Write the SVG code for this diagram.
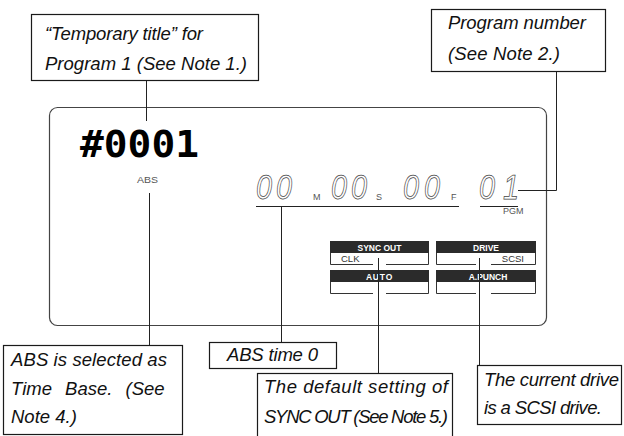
<svg xmlns="http://www.w3.org/2000/svg" width="624" height="436" viewBox="0 0 624 436">
<style>
.box{fill:#fff;stroke:#1a1a1a;stroke-width:1.2}
.lbl{font-family:"Liberation Sans",Arial,sans-serif;font-style:italic;font-size:18.5px;fill:#111}
.ldr{stroke:#222;stroke-width:1;fill:none}
.panel{fill:#fff;stroke:#444;stroke-width:1.2}
.seg{font-family:"Liberation Sans",Arial,sans-serif;font-style:italic;font-size:35px;fill:none;stroke:#444;stroke-width:0.75}
.unit{font-family:"Liberation Sans",Arial,sans-serif;font-size:9px;fill:#555}
.hdr{fill:#2b2b2b}
.hdrt{font-family:"Liberation Sans",Arial,sans-serif;font-size:8.5px;font-weight:bold;fill:#fff;text-anchor:middle}
.low{fill:none;stroke:#333;stroke-width:1}
.lowt{font-family:"Liberation Sans",Arial,sans-serif;font-size:9.5px;fill:#333}
</style>
<g id="panel">
<rect class="panel" x="49.5" y="107.5" width="497" height="218" rx="8"/>
<text x="80" y="157" font-family="DejaVu Sans Mono,monospace" font-weight="bold" font-size="37" textLength="119" lengthAdjust="spacingAndGlyphs" fill="#000">#0001</text>
<text class="unit" x="137" y="183" font-size="8.5" textLength="21" lengthAdjust="spacingAndGlyphs">ABS</text>
</g>
<g id="time-display">
<text class="seg" x="256" y="199" textLength="16" lengthAdjust="spacingAndGlyphs">0</text>
<text class="seg" x="276" y="199" textLength="16" lengthAdjust="spacingAndGlyphs">0</text>
<text class="unit" x="313" y="200">M</text>
<text class="seg" x="331" y="199" textLength="16" lengthAdjust="spacingAndGlyphs">0</text>
<text class="seg" x="351" y="199" textLength="16" lengthAdjust="spacingAndGlyphs">0</text>
<text class="unit" x="376" y="200">S</text>
<text class="seg" x="403" y="199" textLength="16" lengthAdjust="spacingAndGlyphs">0</text>
<text class="seg" x="424" y="199" textLength="16" lengthAdjust="spacingAndGlyphs">0</text>
<text class="unit" x="451" y="200">F</text>
<line x1="256" y1="206.5" x2="459" y2="206.5" stroke="#222" stroke-width="1"/>
</g>
<g id="pgm-display">
<text class="seg" x="479" y="199" textLength="16" lengthAdjust="spacingAndGlyphs">0</text>
<text class="seg" x="503" y="199" textLength="16" lengthAdjust="spacingAndGlyphs">1</text>
<line x1="480" y1="206.5" x2="518" y2="206.5" stroke="#222" stroke-width="1"/>
<text class="unit" x="503" y="214" font-size="9.5">PGM</text>
</g>
<g id="btn-sync-out">
<rect class="hdr" x="330" y="241" width="99" height="12"/>
<text class="hdrt" x="379.5" y="250.5">SYNC OUT</text>
<path class="low" d="M330.5,253 V264.5 H373 M386,264.5 H428.5 V253"/>
<text class="lowt" x="341" y="262">CLK</text>
</g>
<g id="btn-drive">
<rect class="hdr" x="436" y="241" width="100" height="12"/>
<text class="hdrt" x="486" y="250.5">DRIVE</text>
<path class="low" d="M436.5,253 V264.5 H476 M491,264.5 H535.5 V253"/>
<text class="lowt" x="524" y="262" text-anchor="end">SCSI</text>
</g>
<g id="btn-auto">
<rect class="hdr" x="330" y="270" width="99" height="12"/>
<text class="hdrt" x="379.5" y="279.5" letter-spacing="0.8">AUTO</text>
<path class="low" d="M330.5,282 V293.5 H373 M386,293.5 H428.5 V282"/>
</g>
<g id="btn-apunch">
<rect class="hdr" x="436" y="270" width="100" height="12"/>
<text class="hdrt" x="488" y="279.5">A.PUNCH</text>
<path class="low" d="M436.5,282 V293.5 H476 M491,293.5 H535.5 V282"/>
</g>
<g id="connectors">
<path class="ldr" d="M146.5,81 V121"/>
<path class="ldr" d="M556.5,72 V190.5 H518"/>
<path class="ldr" d="M149.5,193 V345"/>
<path class="ldr" d="M281.5,206.5 V342"/>
<path class="ldr" d="M378.5,258 V373"/>
<path class="ldr" d="M479.5,258 V365"/>
</g>
<g id="note-title">
<rect class="box" x="31.5" y="14.5" width="227" height="66"/>
<text class="lbl" x="45" y="40" textLength="158">“Temporary title” for</text>
<text class="lbl" x="45" y="70" textLength="202">Program 1 (See Note 1.)</text>
</g>
<g id="note-pgm">
<rect class="box" x="431.5" y="9.5" width="174" height="62"/>
<text class="lbl" x="448" y="29" textLength="138">Program number</text>
<text class="lbl" x="448" y="60" textLength="112">(See Note 2.)</text>
</g>
<g id="note-abs">
<rect class="box" x="3.5" y="345.5" width="179" height="89"/>
<text class="lbl" x="11" y="366" textLength="156">ABS is selected as</text>
<text class="lbl" x="11" y="395" word-spacing="8">Time Base. (See</text>
<text class="lbl" x="11" y="423">Note 4.)</text>
</g>
<g id="note-abs-time">
<rect class="box" x="209.5" y="342.5" width="127" height="26"/>
<text class="lbl" x="227" y="361" textLength="91">ABS time 0</text>
</g>
<g id="note-sync">
<rect class="box" x="257.5" y="373.5" width="195" height="72"/>
<text class="lbl" x="264" y="393" textLength="184">The default setting of</text>
<text class="lbl" x="264" y="423" textLength="184">SYNC OUT (See Note 5.)</text>
</g>
<g id="note-drive">
<rect class="box" x="477.5" y="365.5" width="144" height="59"/>
<text class="lbl" x="484" y="386" textLength="135">The current drive</text>
<text class="lbl" x="484" y="414" textLength="118">is a SCSI drive.</text>
</g>
</svg>
